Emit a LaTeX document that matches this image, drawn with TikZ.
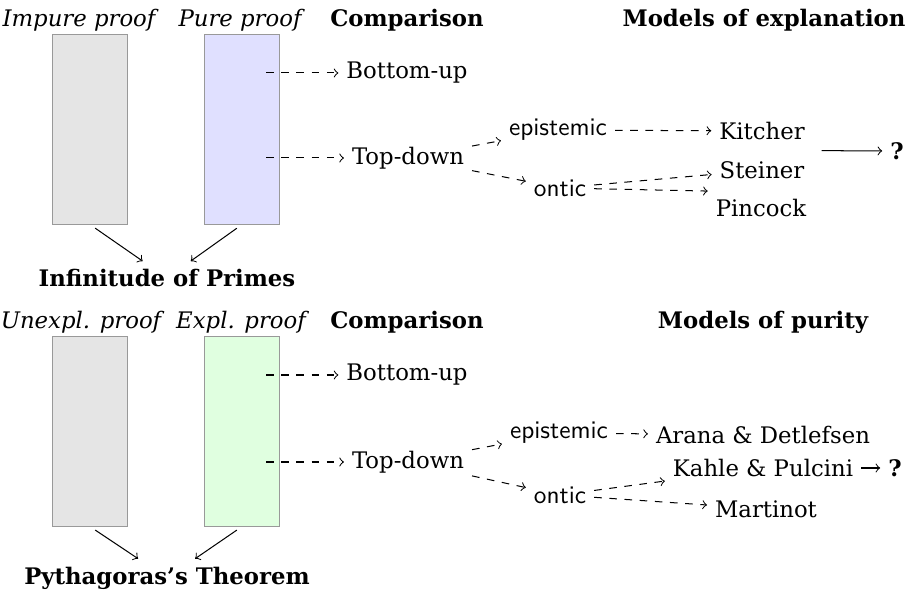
\documentclass[tikz,border=0pt]{standalone}
\usepackage{fontspec}
\setmainfont{DejaVu Serif}[Scale=0.9]
\usetikzlibrary{fit}
\begin{document}
\begin{tikzpicture}[x=0.395pt,y=-0.395pt,
  hdr/.style={anchor=base, font=\bfseries},
  phdr/.style={anchor=base, font=\itshape},
  pbox/.style={draw=black!40, inner sep=0pt, minimum width=30pt, minimum height=74.7pt},
  lab/.style={font=\sffamily},
  dar/.style={dashed, ->},
  sar/.style={->},
  conc/.style={font=\bfseries}]
\useasboundingbox (0,0) rectangle (912,596);

% ---------- top section ----------
\node[phdr] (h1) at (79,27) {Impure proof};
\node[phdr] (h2) at (240,27) {Pure proof};
\node[hdr] (h3) at (407,27) {Comparison};
\node[hdr] (h4) at (764,27) {Models of explanation};

\node[pbox, fill=black!10] (g1) at (90,129.5) {};
\node[pbox, fill=blue!12] (b1) at (242,129.5) {};

\node (bu) at (407,73) {Bottom-up};
\node (td) at (408,158) {Top-down};
\coordinate (b1u) at (266,73);
\coordinate (b1d) at (266,158);
\draw[dar] (b1u) -- (bu);
\draw[dar] (b1d) -- (td);

\node[lab] (ep) at (558,130) {epistemic};
\node[lab] (on) at (560,188) {ontic};
\draw[dar] (td) -- (ep);
\draw[dar] (td) -- (on);

\node (ki) at (762,131) {Kitcher};
\node (st) at (762,170) {Steiner};
\node (pc) at (761,208) {Pincock};
\draw[dar] (ep) -- (ki);
\draw[dar] (on) -- (st);
\draw[dar] (on) -- (pc.north west);

\node[fit=(ki)(st), inner sep=3.33pt] (ks) {};
\node[font=\bfseries] (q1) at (897,151) {?};
\draw[sar] (ks) -- (q1);

\node[conc] (c1) at (167,278) {Infinitude of Primes};
\draw[sar, shorten <=2.5pt] (g1.south) -- (c1);
\draw[sar, shorten <=2.5pt] (b1.south) -- (c1);

% ---------- bottom section ----------
\node[phdr] (k1) at (81,329) {Unexpl. proof};
\node[phdr] (k2) at (241,329) {Expl. proof};
\node[hdr] (k3) at (407,329) {Comparison};
\node[hdr] (k4) at (763,329) {Models of purity};

\node[pbox, fill=black!10] (g2) at (90,431.5) {};
\node[pbox, fill=green!12] (e2) at (242,431.5) {};

\node (bu2) at (407,375) {Bottom-up};
\node (td2) at (408,462) {Top-down};
\coordinate (e2u) at (266,375);
\coordinate (e2d) at (266,462);
\draw[dar] (e2u) -- (bu2);
\draw[dar] (e2d) -- (td2);

\node[lab] (ep2) at (559,433) {epistemic};
\node[lab] (on2) at (560,495) {ontic};
\draw[dar] (td2) -- (ep2);
\draw[dar] (td2) -- (on2);

\node (ad) at (763,435) {Arana \& Detlefsen};
\node (kp) at (763,468) {Kahle \& Pulcini};
\node (mt) at (766,509) {Martinot};
\draw[dar] (ep2) -- (ad);
\draw[dar] (on2) -- (kp);
\draw[dar] (on2) -- (mt);

\node[font=\bfseries] (q2) at (895,468) {?};
\draw[sar] (kp) -- (q2);

\node[conc] (c2) at (167,578) {Pythagoras's Theorem};
\draw[sar, shorten <=2.5pt] (g2.south) -- (c2);
\draw[sar, shorten <=2.5pt] (e2.south) -- (c2);
\end{tikzpicture}
\end{document}
